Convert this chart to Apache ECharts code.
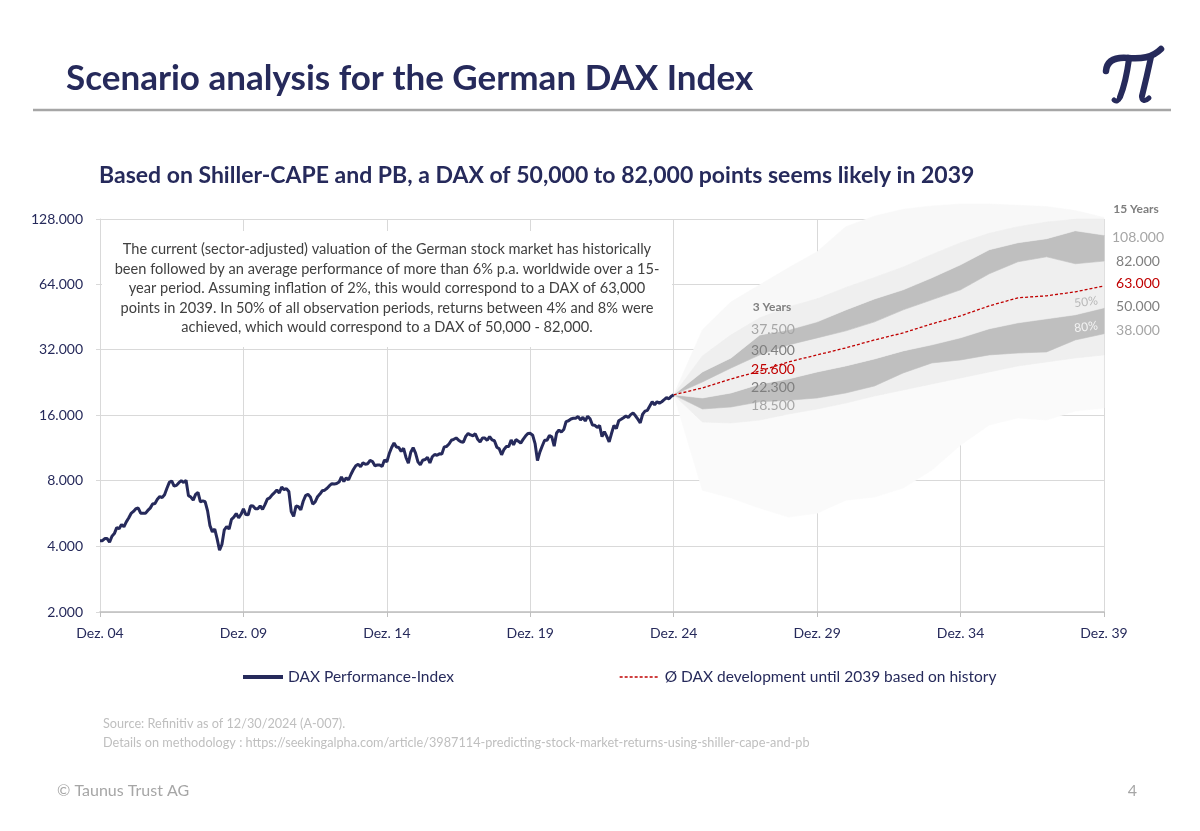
<!DOCTYPE html>
<html>
<head>
<meta charset="utf-8">
<script src="https://cdn.jsdelivr.net/npm/echarts@6/dist/echarts.min.js"></script>
<style>
html,body{margin:0;padding:0;background:#fff;}
#chart{width:1200px;height:831px;}
</style>
</head>
<body>
<div id="chart"></div>
<script>
// ---------- DATA ----------
const xTickLabels = ['Dez. 04','Dez. 09','Dez. 14','Dez. 19','Dez. 24','Dez. 29','Dez. 34','Dez. 39'];

// DAX Performance-Index, month-end values Dec 2004 .. Dec 2024
const daxMonthly = [
  4256,
  4255,4350,4349,4185,4460,4586,4887,4830,5044,4929,5193,5408,
  5674,5796,5970,6009,5692,5683,5682,5859,6004,6268,6309,6597,
  6789,6716,6917,7409,7883,8007,7584,7638,7862,8020,7871,8067,
  6852,6748,6535,6949,7097,6418,6479,6422,5831,4988,4669,4810,
  4338,3843,4085,4770,4941,4809,5332,5458,5675,5415,5625,5957,
  5608,5598,6154,6136,5964,5966,6148,5925,6229,6601,6688,6914,
  7077,7272,7041,7514,7294,7376,7159,5784,5502,6141,6089,5898,
  6458,6856,6947,6761,6264,6416,6772,6970,7216,7260,7406,7612,
  7776,7742,7795,7914,8349,7959,8276,8104,8594,9033,9406,9552,
  9306,9692,9556,9603,9943,9833,9407,9470,9474,9327,9981,9806,
  10694,11402,11966,11454,11413,10945,11309,10259,9660,10850,11382,10743,
  9798,9495,9966,10039,10263,9680,10337,10593,10511,10665,10640,11481,
  11535,11834,12313,12438,12615,12325,12118,12056,12829,13230,13024,12918,
  13189,12436,12097,12612,12605,12306,12806,12364,12247,11448,11257,10559,
  11173,11516,11526,12344,11727,12399,12189,11939,12428,12867,13236,13249,
  12982,11891,9936,10862,11587,12311,12313,12945,12761,11556,13291,13719,
  13433,13786,15008,15136,15421,15531,15544,15835,15261,15688,15100,15885,
  15471,14461,14415,14098,14388,12784,13484,12835,12114,13254,14397,13924,
  15128,15365,15629,15922,15664,16148,16447,15947,15387,14810,16215,16752,
  16904,17678,18492,17932,18498,18235,18509,18907,19325,19078,19626,19909
];

// Scenario fan, year-end values Dec 2024 .. Dec 2039
const fanP1  = [19909, 7260, 6680, 6000, 5460, 5690, 6530, 6750, 7420, 8980,11700,14470,15580,15250,16780,17330];
const fanP5  = [19909,14940,14780,15250,16260,17140,18260,19670,20970,22350,23820,25370,27040,28210,29430,30380];
const fanL80 = [19909,17140,17510,18500,18800,19260,20310,21870,25100,27900,28800,30380,31000,31360,35600,38000];
const fanL50 = [19909,19260,20310,22300,23560,25370,27040,29120,31700,33800,36400,40050,42650,44500,46440,50000];
const fanMed = [19909,21420,23560,25600,28200,30380,32720,35600,38350,42200,45900,51060,55600,56800,59200,63000];
const fanU50 = [19909,22820,26460,30400,33780,36380,39180,43100,48940,54420,60500,71700,81400,85800,79700,82000];
const fanU80 = [19909,25370,29430,37500,39600,43100,48900,54950,60500,68700,78850,92460,99580,103900,113000,108000];
const fanP95 = [19909,30060,37560,44960,50500,55000,62000,69000,77000,88000,99580,110000,118000,124000,127500,127500];
const fanP99 = [19909,39600,53300,63800,76400,90500,118000,132000,142000,147000,150000,150000,148000,146000,140000,130000];

const threeYearLabels = [37500, 30400, 25600, 22300, 18500];
const fifteenYearLabels = [108000, 82000, 63000, 50000, 38000];

// ---------- HELPERS ----------
const NAVY = '#262a5b';
const FONT = 'Lato, "Noto Sans", sans-serif';
function fmt(v){ return String(Math.round(v)).replace(/\B(?=(\d{3})+(?!\d))/g, '.'); }
const daxData = daxMonthly.map((v,i)=>[i, v]);
const fanX = k => 240 + 12*k;
const toPts = arr => arr.map((v,k)=>[fanX(k), v]);

const bandDefs = [
  {lo: fanP95, hi: fanP99, color: '#f8f8f8'},
  {lo: fanP1,  hi: fanP5,  color: '#fafafa'},
  {lo: fanP5,  hi: fanL80, color: '#efefef'},
  {lo: fanL80, hi: fanL50, color: '#bfbfbf'},
  {lo: fanL50, hi: fanU50, color: '#efefef'},
  {lo: fanU50, hi: fanU80, color: '#bfbfbf'},
  {lo: fanU80, hi: fanP95, color: '#efefef'}
];
const bandSeries = bandDefs.map(b => ({
  type: 'custom', silent: true, z: 2,
  dimensions: ['x', 'lo', 'hi'],
  encode: {x: 0, y: [1, 2]},
  data: b.hi.map((v,k)=>[fanX(k), b.lo[k], v]),
  renderItem: function(params, api){
    if (params.dataIndexInside !== 0) return null;
    const n = b.hi.length;
    const top = [], bot = [];
    for (let i = 0; i < n; i++) {
      const x = api.value(0, i);
      top.push(api.coord([x, api.value(2, i)]));
      bot.push(api.coord([x, api.value(1, i)]));
    }
    return {type: 'polygon', shape: {points: top.concat(bot.reverse())},
      style: {fill: b.color, stroke: b.color, lineWidth: 0.6}};
  }
}));

// ---------- CHART ----------
const chart = echarts.init(document.getElementById('chart'), null, {renderer: 'canvas'});

const gtext = (x, y, text, opts) => Object.assign({
  type: 'text', x: x, y: y, z: 100,
  style: Object.assign({text: text, fill: '#7f7f7f', fontSize: 13, fontFamily: FONT,
    align: 'center', verticalAlign: 'middle'}, opts || {})
});
const curve = (x1,y1,c1x,c1y,c2x,c2y,x2,y2,w) => ({
  type: 'bezierCurve', z: 100,
  shape: {x1: x1, y1: y1, cpx1: c1x, cpy1: c1y, cpx2: c2x, cpy2: c2y, x2: x2, y2: y2},
  style: {stroke: NAVY, lineWidth: w, fill: null, lineCap: 'round'}
});

const lightGrey = '#a6a6a6', midGrey = '#7f7f7f', red = '#c00000';
const threeColors = [lightGrey, midGrey, red, midGrey, lightGrey];
const threeY = [329, 350, 369, 387, 405];
const fifteenY = [237, 261, 283, 306, 330];

const graphics = [
  gtext(66, 79, 'Scenario analysis for the German DAX Index', {fill: NAVY, fontSize: 35, fontWeight: 'bold', align: 'left'}),
  {type: 'line', z: 100, shape: {x1: 33, y1: 110, x2: 1171, y2: 110}, style: {stroke: '#a6a6a6', lineWidth: 2.5}},
  curve(1106,71, 1107,60, 1116,57, 1128,58, 6.5),
  curve(1128,58, 1141,59, 1152,58, 1161,49, 6.5),
  curve(1129,59, 1127,74, 1124,87, 1120,97, 6),
  curve(1120,97, 1119,101, 1116,102, 1114,100, 5),
  curve(1151,57, 1148,71, 1145,84, 1142,96, 6),
  curve(1142,96, 1141,101, 1145,102, 1149,98, 5),
  gtext(99, 176, 'Based on Shiller-CAPE and PB, a DAX of 50,000 to 82,000 points seems likely in 2039', {fill: NAVY, fontSize: 23, fontWeight: 'bold', align: 'left'}),
  {type: 'rect', z: 90, shape: {x: 102, y: 231, width: 570, height: 116}, style: {fill: '#ffffff'}},
  gtext(387, 240, 'The current (sector-adjusted) valuation of the German stock market has historically\nbeen followed by an average performance of more than 6% p.a. worldwide over a 15-\nyear period. Assuming inflation of 2%, this would correspond to a DAX of 63,000\npoints in 2039. In 50% of all observation periods, returns between 4% and 8% were\nachieved, which would correspond to a DAX of 50,000 - 82,000.',
    {fill: '#404040', fontSize: 14.6, lineHeight: 19.4, verticalAlign: 'top'}),
  gtext(772, 307, '3 Years', {fill: midGrey, fontSize: 12, fontWeight: 'bold'}),
  gtext(1136, 209, '15 Years', {fill: midGrey, fontSize: 12, fontWeight: 'bold'}),
  Object.assign(gtext(1086, 302, '50%', {fill: '#b8b8b8', fontSize: 12}), {rotation: 0.13}),
  Object.assign(gtext(1086, 327, '80%', {fill: '#f4f4f4', fontSize: 12}), {rotation: 0.13}),
  gtext(103, 724, 'Source: Refinitiv as of 12/30/2024 (A-007).', {fill: '#bfbfbf', fontSize: 12.7, align: 'left'}),
  gtext(103, 743, 'Details on methodology : https://seekingalpha.com/article/3987114-predicting-stock-market-returns-using-shiller-cape-and-pb', {fill: '#bfbfbf', fontSize: 12.7, align: 'left'}),
  gtext(57, 791, '\u00A9 Taunus Trust AG', {fill: '#a6a6a6', fontSize: 16, align: 'left'}),
  gtext(1137, 791, '4', {fill: '#a6a6a6', fontSize: 16, align: 'right'})
];
threeYearLabels.forEach((v,i)=>graphics.push(gtext(773, threeY[i], fmt(v), {fill: threeColors[i], fontSize: 14})));
fifteenYearLabels.forEach((v,i)=>graphics.push(gtext(1138, fifteenY[i], fmt(v), {fill: threeColors[i], fontSize: 14})));

const legendBase = {itemWidth: 40, itemHeight: 12, top: 664,
  itemStyle: {color: 'transparent', borderWidth: 0, opacity: 0},
  textStyle: {color: NAVY, fontSize: 15.5, fontFamily: FONT}};

const option = {
  animation: false,
  backgroundColor: '#ffffff',
  textStyle: {fontFamily: FONT},
  grid: {left: 100, right: 96, top: 219, bottom: 219, containLabel: false},
  xAxis: {
    type: 'value', min: 0, max: 420, interval: 60,
    axisLine: {show: true, lineStyle: {color: '#bfbfbf', width: 1.5}},
    axisTick: {show: true, length: 5, lineStyle: {color: '#bfbfbf'}},
    axisLabel: {color: NAVY, fontSize: 14, margin: 14, fontFamily: FONT,
      formatter: v => xTickLabels[Math.round(v/60)] || ''},
    splitLine: {show: true, lineStyle: {color: '#d9d9d9', width: 1}}
  },
  yAxis: {
    type: 'log', logBase: 2, min: 2000, max: 128000, interval: 1,
    axisLine: {show: true, lineStyle: {color: '#d9d9d9', width: 1}},
    axisTick: {show: true, length: 4, lineStyle: {color: '#d9d9d9'}},
    axisLabel: {color: NAVY, fontSize: 14, margin: 17, fontFamily: FONT,
      formatter: v => fmt(Math.round(v/1000)*1000)},
    splitLine: {show: true, lineStyle: {color: '#d9d9d9', width: 1}}
  },
  legend: [
    Object.assign({}, legendBase, {data: ['DAX Performance-Index'], left: 236,
      lineStyle: {width: 4}}),
    Object.assign({}, legendBase, {data: ['\u00D8 DAX development until 2039 based on history'], left: 614,
      lineStyle: {width: 1.3}})
  ],
  graphic: {elements: graphics},
  series: bandSeries.concat([
    {name: '\u00D8 DAX development until 2039 based on history', type: 'line', data: toPts(fanMed), symbol: 'none', z: 5,
      lineStyle: {color: red, width: 1.3, type: [3, 2]}, itemStyle: {color: red}},
    {name: 'DAX Performance-Index', type: 'line', data: daxData, symbol: 'none', z: 6,
      lineStyle: {color: NAVY, width: 3}, itemStyle: {color: NAVY}}
  ])
};
chart.setOption(option);
</script>
</body>
</html>
